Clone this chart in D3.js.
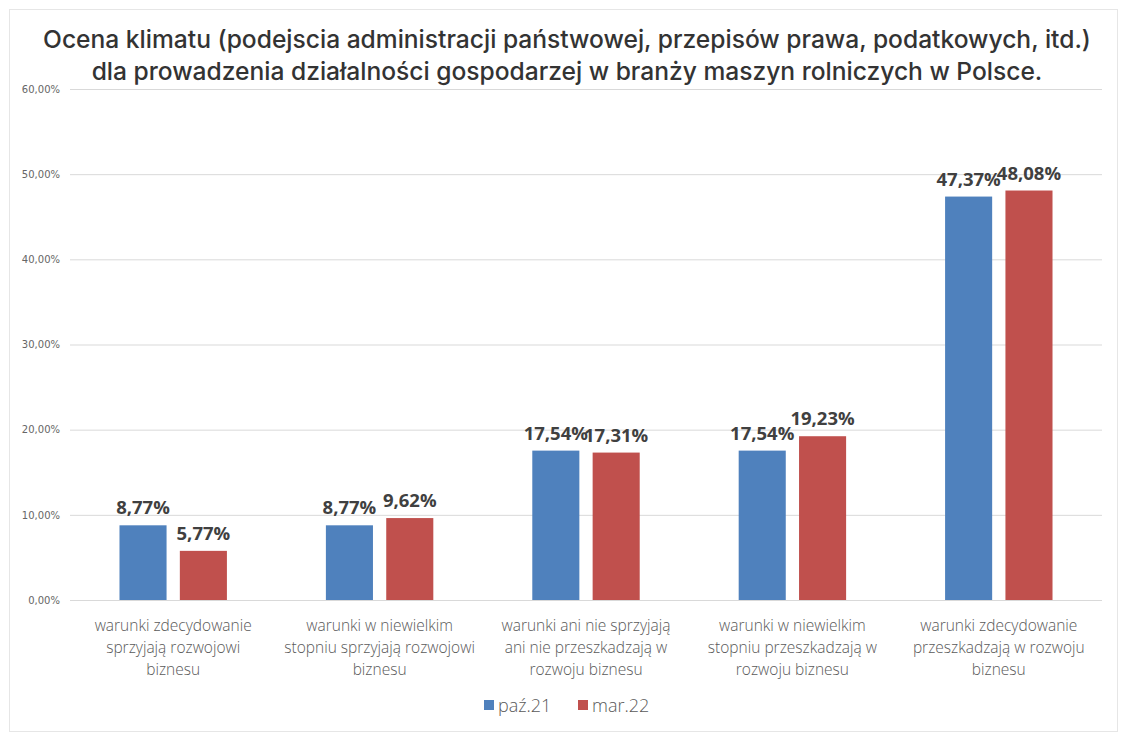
<!DOCTYPE html>
<html>
<head>
<meta charset="utf-8">
<script src="https://cdn.jsdelivr.net/npm/d3@7/dist/d3.min.js"></script>
<style>
  body { margin: 0; background: #fff; }
  svg { display: block; }
</style>
</head>
<body>
<svg id="chart" width="1134" height="748"></svg>
<script>
// chart data
var titleLines = ["Ocena klimatu (podejscia administracji państwowej, przepisów prawa, podatkowych, itd.)",
                  "dla prowadzenia działalności gospodarzej w branży maszyn rolniczych w Polsce."];
var categories = [
    ["warunki zdecydowanie", "sprzyjają rozwojowi", "biznesu"],
    ["warunki w niewielkim", "stopniu sprzyjają rozwojowi", "biznesu"],
    ["warunki ani nie sprzyjają", "ani nie przeszkadzają w", "rozwoju biznesu"],
    ["warunki w niewielkim", "stopniu przeszkadzają w", "rozwoju biznesu"],
    ["warunki zdecydowanie", "przeszkadzają w rozwoju", "biznesu"]
];
var seriesNames = ["paź.21", "mar.22"];
var paz21 = [8.77, 8.77, 17.54, 17.54, 47.37];
var mar22 = [5.77, 9.62, 17.31, 19.23, 48.08];
var yTicks = [0, 10, 20, 30, 40, 50, 60];

var colors = ["#4F81BD", "#C0504D"];

// plot area
var plotLeft = 70, plotRight = 1102, plotTop = 89, plotBottom = 600;

var svg = d3.select("#chart");

// light outer frame
svg.append("rect")
   .attr("x", 9.5).attr("y", 9.5)
   .attr("width", 1108).attr("height", 722)
   .attr("fill", "#fff")
   .attr("stroke", "#e6e6e6");

var x = d3.scaleBand()
          .domain(d3.range(categories.length))
          .range([plotLeft, plotRight]);

var xs = d3.scaleBand()
           .domain([0, 1])
           .range([0, x.bandwidth()])
           .paddingInner(0.22)
           .paddingOuter(0.82);

var y = d3.scaleLinear()
          .domain([0, 60])
          .range([plotBottom, plotTop]);

// gridlines + tick labels
var yAxis = d3.axisLeft(y)
              .tickValues(yTicks)
              .tickSize(-(plotRight - plotLeft))
              .tickPadding(10)
              .tickFormat(function(d) { return d.toFixed(2).replace(".", ",") + "%"; });

var gy = svg.append("g")
            .attr("transform", "translate(" + plotLeft + ",0)")
            .call(yAxis);
gy.select(".domain").remove();
gy.selectAll(".tick line").attr("stroke", "#d9d9d9");
gy.selectAll(".tick text")
  .attr("fill", "#666666")
  .attr("font-family", "'DejaVu Sans', sans-serif")
  .attr("font-size", 10);

// bars
var series = [paz21, mar22];
var groups = svg.append("g").selectAll("g")
                .data(series)
                .join("g")
                .attr("fill", function(d, i) { return colors[i]; });

groups.each(function(vals, s) {
    var g = d3.select(this);
    g.selectAll("rect")
     .data(vals)
     .join("rect")
     .attr("x", function(d, i) { return x(i) + xs(s); })
     .attr("y", function(d) { return y(d); })
     .attr("width", xs.bandwidth())
     .attr("height", function(d) { return y(0) - y(d); });

    g.selectAll("text")
     .data(vals)
     .join("text")
     .attr("x", function(d, i) { return x(i) + xs(s) + xs.bandwidth() / 2; })
     .attr("y", function(d) { return y(d) - 11; })
     .attr("text-anchor", "middle")
     .attr("fill", "#404040")
     .attr("font-family", "'Open Sans', sans-serif")
     .attr("font-weight", "bold")
     .attr("font-size", 18.5)
     .text(function(d) { return d.toFixed(2).replace(".", ",") + "%"; });
});

// category labels
var catG = svg.append("g").selectAll("text")
              .data(categories)
              .join("text")
              .attr("text-anchor", "middle")
              .attr("fill", "#595959")
              .attr("font-family", "'Open Sans', sans-serif")
              .attr("font-weight", 300)
              .attr("font-size", 15.5);

catG.each(function(lines, i) {
    d3.select(this).selectAll("tspan")
      .data(lines)
      .join("tspan")
      .attr("x", x(i) + x.bandwidth() / 2)
      .attr("y", function(d, j) { return 631 + j * 22; })
      .text(function(d) { return d; });
});

// legend
var legendX = [484, 578];
var leg = svg.append("g").selectAll("g")
             .data(seriesNames)
             .join("g")
             .attr("transform", function(d, i) { return "translate(" + legendX[i] + ",0)"; });
leg.append("rect")
   .attr("x", 0).attr("y", 700)
   .attr("width", 10).attr("height", 10)
   .attr("fill", function(d, i) { return colors[i]; });
leg.append("text")
   .attr("x", 14).attr("y", 712)
   .attr("fill", "#595959")
   .attr("font-family", "'Open Sans', sans-serif")
   .attr("font-weight", 300)
   .attr("font-size", 18)
   .text(function(d) { return d; });

// title
var title = svg.append("g").selectAll("text")
               .data(titleLines)
               .join("text")
               .attr("x", 567)
               .attr("y", function(d, i) { return 48 + i * 32; })
               .attr("text-anchor", "middle")
               .attr("fill", "#333333")
               .attr("font-family", "Inter, sans-serif")
               .attr("font-weight", 500)
               .attr("font-size", 22)
               .text(function(d) { return d; });

// fit first title line to reference width
var w0 = title.node().getComputedTextLength();
var fs = 22 * 1048 / w0;
title.attr("font-size", fs);
</script>
</body>
</html>
